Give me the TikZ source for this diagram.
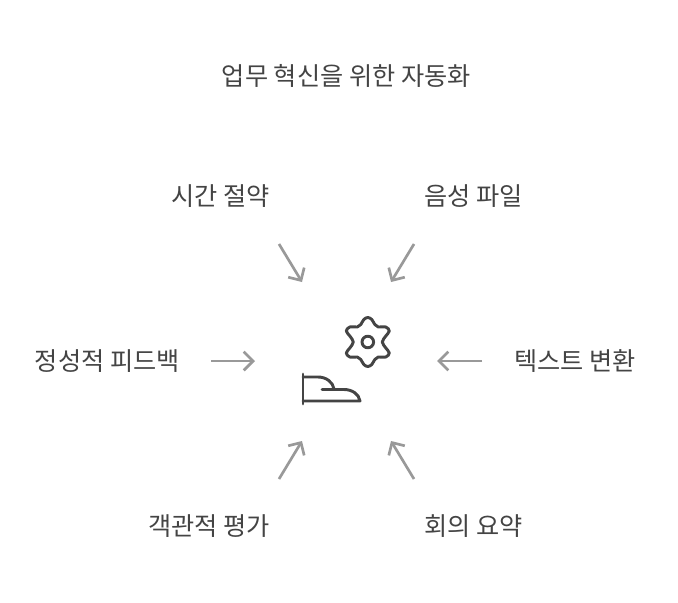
\documentclass[tikz,border=0pt]{standalone}
\usepackage{fontspec}
\setmainfont{Noto Sans CJK KR}
\usetikzlibrary{arrows.meta}
\definecolor{labelgray}{HTML}{444444}
\definecolor{arrowgray}{HTML}{999999}
\begin{document}
\begin{tikzpicture}[
    x=0.75pt, y=-0.75pt,
    title/.style={text=labelgray, font=\fontsize{18.9}{22}\selectfont, anchor=center, inner sep=0pt},
    item/.style={text=labelgray, font=\fontsize{18.9}{22}\selectfont, inner sep=0pt},
    arrow/.style={arrowgray, line width=2pt, -{Straight Barb[length=7pt,width=14pt,line width=2pt]}},
    icon/.style={labelgray, line width=2.2pt, line cap=round, line join=round}
]
\useasboundingbox (0,0) rectangle (678,603);

\node[title] (heading) at (346.3,76) {업무 혁신을 위한 자동화};

\node[item, anchor=east] (saving) at (270,196) {시간 절약};
\node[item, anchor=west] (voice) at (424,196) {음성 파일};
\node[item, anchor=west] (text) at (514,361) {텍스트 변환};
\node[item, anchor=west] (minutes) at (424,526) {회의 요약};
\node[item, anchor=east] (objective) at (270,526) {객관적 평가};
\node[item, anchor=east] (feedback) at (180,361) {정성적 피드백};

% arrow ends
\coordinate (saving-a) at (279,244);
\coordinate (saving-b) at (302,282);
\coordinate (voice-a) at (414,244);
\coordinate (voice-b) at (391,282);
\coordinate (text-a) at (482,361);
\coordinate (text-b) at (437,361);
\coordinate (minutes-a) at (414,479);
\coordinate (minutes-b) at (391,441);
\coordinate (objective-a) at (279,479);
\coordinate (objective-b) at (302,441);
\coordinate (feedback-a) at (211,361);
\coordinate (feedback-b) at (255,361);

\foreach \name in {saving,voice,text,minutes,objective,feedback}
    \draw[arrow] (\name-a) -- (\name-b);

% gear
\begin{scope}[shift={(367.8,342)}]
\draw[icon, y=0.75pt] plot[smooth cycle, tension=0.6] coordinates {
    (0,24.5) (4,22.5) (7,17.5) (10.5,15) (18,15) (21.5,11) (18,6) (14.5,0)
    (18,-6) (21.5,-11) (18,-15) (10.5,-15) (7,-17.5) (4,-22.5)
    (0,-24.5) (-4,-22.5) (-7,-17.5) (-10.5,-15) (-18,-15) (-21.5,-11) (-18,-6) (-14.5,0)
    (-18,6) (-21.5,11) (-18,15) (-10.5,15) (-7,17.5) (-4,22.5)};
\draw[icon] (0,0) circle (5.8);
\end{scope}

% shoe
\draw[icon] (303,374) -- (303,404);
\draw[icon] (303,377) -- (318,377) .. controls (326,377) and (333,382) .. (334,389);
\draw[icon] (322,389.5) -- (344,389.5) .. controls (352,389.5) and (359,394) .. (360,401) -- (303,401);
\end{tikzpicture}
\end{document}
